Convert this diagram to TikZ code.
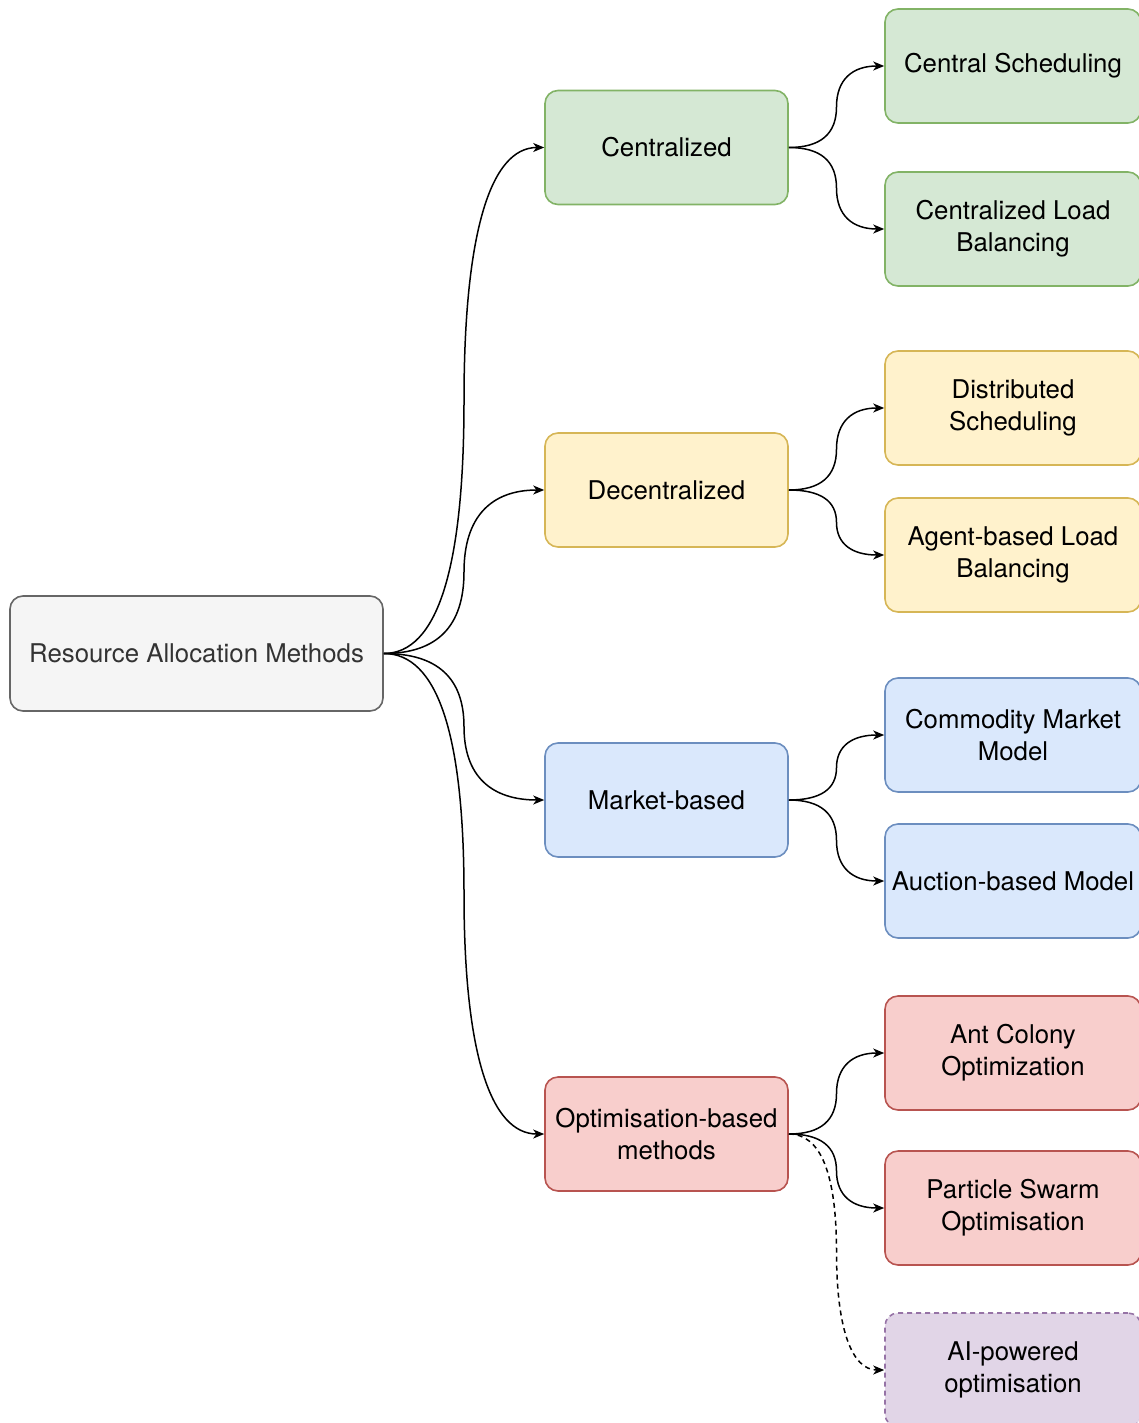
\documentclass[tikz,border=0pt]{standalone}
\usepackage{fontspec}
\setmainfont{TeX Gyre Heros}
\usetikzlibrary{arrows.meta,calc}

\definecolor{grayfill}{HTML}{F5F5F5}\definecolor{graydraw}{HTML}{666666}\definecolor{graytext}{HTML}{333333}
\definecolor{greenfill}{HTML}{D5E8D4}\definecolor{greendraw}{HTML}{82B366}
\definecolor{yellowfill}{HTML}{FFF2CC}\definecolor{yellowdraw}{HTML}{D6B656}
\definecolor{bluefill}{HTML}{DAE8FC}\definecolor{bluedraw}{HTML}{6C8EBF}
\definecolor{redfill}{HTML}{F8CECC}\definecolor{reddraw}{HTML}{B85450}
\definecolor{purplefill}{HTML}{E1D5E7}\definecolor{purpledraw}{HTML}{9673A6}

\tikzset{
  box/.style={rectangle, rounded corners=6.5pt, line width=0.8pt, align=center,
    font=\fontsize{12.9}{16}\selectfont, inner sep=2pt},
  rootbox/.style={box, minimum width=186.5pt, minimum height=57.5pt,
    fill=grayfill, draw=graydraw, text=graytext},
  midbox/.style={box, minimum width=121.5pt, minimum height=57pt},
  leafbox/.style={box, minimum width=128pt, minimum height=57pt},
  green/.style={fill=greenfill, draw=greendraw},
  yellow/.style={fill=yellowfill, draw=yellowdraw},
  blue/.style={fill=bluefill, draw=bluedraw},
  red/.style={fill=redfill, draw=reddraw},
  purple/.style={fill=purplefill, draw=purpledraw, dashed, dash pattern=on 2.5pt off 2pt},
  % smooth elbow: horizontal out, vertical at the midpoint, horizontal in
  elbow/.style={to path={let \p1=(\tikztostart), \p2=(\tikztotarget) in
     .. controls ({(2*\x1+\x2)/3}, \y1) and ({(\x1+\x2)/2}, {(5*\y1+\y2)/6})
     .. ({(\x1+\x2)/2}, {(\y1+\y2)/2})
     .. controls ({(\x1+\x2)/2}, {(\y1+5*\y2)/6}) and ({(\x1+2*\x2)/3}, \y2)
     .. (\tikztotarget) \tikztonodes}},
  link/.style={draw=black, line width=0.75pt, -{Stealth[length=5.5pt, width=4.5pt, inset=1.6pt]}},
  dlink/.style={link, dash pattern=on 2.5pt off 2pt}
}

\begin{document}
\begin{tikzpicture}[x=0.5pt, y=-0.5pt]
  \useasboundingbox (0,0) rectangle (1139,1423);

  % root
  \node[rootbox] (root) at (196.5,653.5) {Resource Allocation Methods};

  % categories
  \node[midbox, green]  (cent)   at (666.5,147.5) {Centralized};
  \node[midbox, yellow] (decent) at (666.5,490)   {Decentralized};
  \node[midbox, blue]   (market) at (666.5,800)   {Market-based};
  \node[midbox, red]    (optim)  at (666.5,1134)  {Optimisation-based\\methods};

  % methods
  \node[leafbox, green]  (cs)  at (1013,66)   {Central Scheduling};
  \node[leafbox, green]  (clb) at (1013,229)  {Centralized Load\\Balancing};
  \node[leafbox, yellow] (ds)  at (1013,408)  {Distributed\\Scheduling};
  \node[leafbox, yellow] (alb) at (1013,555)  {Agent-based Load\\Balancing};
  \node[leafbox, blue]   (cmm) at (1013,735)  {Commodity Market\\Model};
  \node[leafbox, blue]   (abm) at (1013,881)  {Auction-based Model};
  \node[leafbox, red]    (aco) at (1013,1053) {Ant Colony\\Optimization};
  \node[leafbox, red]    (pso) at (1013,1208) {Particle Swarm\\Optimisation};
  \node[leafbox, purple] (ai)  at (1013,1370) {AI-powered\\optimisation};

  % connectors
  \foreach \t in {cent,decent,market,optim}
    \draw[link] (root.east) to[elbow] (\t.west);
  \draw[link] (cent.east) to[elbow] (cs.west);
  \draw[link] (cent.east) to[elbow] (clb.west);
  \draw[link] (decent.east) to[elbow] (ds.west);
  \draw[link] (decent.east) to[elbow] (alb.west);
  \draw[link] (market.east) to[elbow] (cmm.west);
  \draw[link] (market.east) to[elbow] (abm.west);
  \draw[link] (optim.east) to[elbow] (aco.west);
  \draw[link] (optim.east) to[elbow] (pso.west);
  \draw[dlink] (optim.east) to[elbow] (ai.west);
\end{tikzpicture}
\end{document}
